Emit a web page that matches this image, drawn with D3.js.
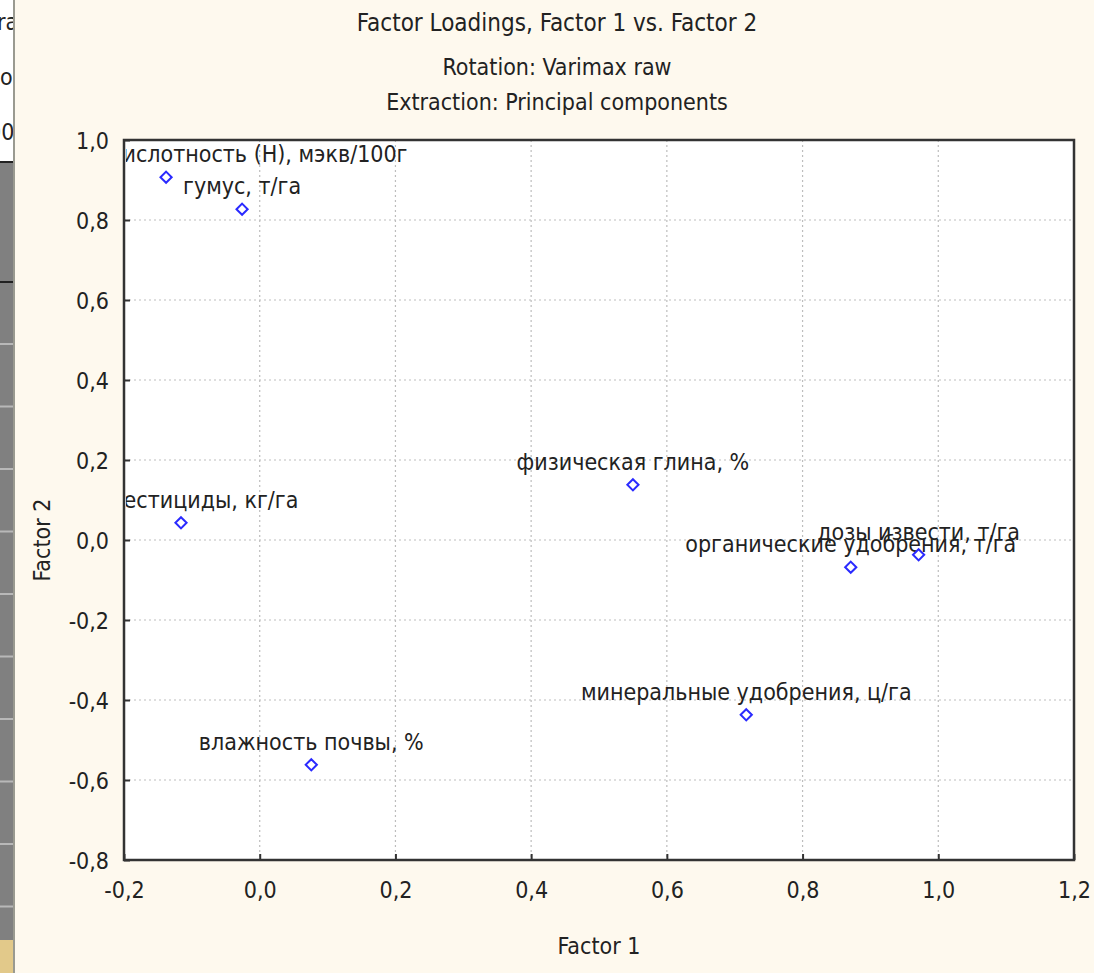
<!DOCTYPE html>
<html><head><meta charset="utf-8">
<script src="https://cdn.jsdelivr.net/npm/d3@7"></script>
<style>
html,body{margin:0;padding:0;background:#fef9ee;}
svg{display:block;}
text{font-family:"Liberation Sans Narrow","Arial Narrow","DejaVu Sans Condensed","Liberation Sans",sans-serif;fill:#222;}
</style></head>
<body>
<svg id="c" width="1094" height="973"></svg>
<script>
const titleLines = ["Factor Loadings, Factor 1 vs. Factor 2", "Rotation: Varimax raw", "Extraction: Principal components"];
const variables = ["кислотность (H), мэкв/100г", "гумус, т/га", "пестициды, кг/га", "влажность почвы, %", "физическая глина, %", "минеральные удобрения, ц/га", "органические удобрения, т/га", "дозы извести, т/га"];
const factor1 = [-0.138, -0.026, -0.116, 0.076, 0.550, 0.717, 0.871, 0.971];
const factor2 = [0.907, 0.827, 0.043, -0.562, 0.138, -0.437, -0.068, -0.037];
const xTicks = [-0.2, 0.0, 0.2, 0.4, 0.6, 0.8, 1.0, 1.2];
const yTicks = [-0.8, -0.6, -0.4, -0.2, 0.0, 0.2, 0.4, 0.6, 0.8, 1.0];
const xTitle = "Factor 1", yTitle = "Factor 2";

const svg = d3.select("#c");
const W = 1094, H = 973;
const m = {l:124, r:1074, t:140, b:860};
const fmt = d => d3.format(".1f")(d).replace(".", ",").replace("−","-");

svg.append("rect").attr("width",W).attr("height",H).attr("fill","#fef9ee");

// left strip artifact (edge of neighbouring window in the screenshot)
svg.append("clipPath").attr("id","sc").append("rect").attr("x",0).attr("y",0).attr("width",13).attr("height",H);
const strip = svg.append("g").attr("clip-path","url(#sc)");
strip.append("rect").attr("x",0).attr("y",0).attr("width",13).attr("height",162).attr("fill","#ffffff");
strip.append("rect").attr("x",0).attr("y",162).attr("width",13).attr("height",778).attr("fill","#808080");
strip.append("rect").attr("x",0).attr("y",940).attr("width",13).attr("height",33).attr("fill","#e2c98a");
strip.append("rect").attr("x",0).attr("y",161).attr("width",13).attr("height",2).attr("fill","#222");
strip.append("rect").attr("x",0).attr("y",281).attr("width",13).attr("height",2).attr("fill","#222");
d3.range(343, 930, 62.5).forEach(y => strip.append("rect").attr("x",0).attr("y",y).attr("width",13).attr("height",2).attr("fill","#b8b8b8"));
strip.append("text").attr("x",-3).attr("y",30).attr("font-size",23).text("ra");
strip.append("text").attr("x",0).attr("y",85).attr("font-size",23).text("o");
strip.append("text").attr("x",-12).attr("y",140).attr("font-size",23).text("00");
svg.append("rect").attr("x",13).attr("y",0).attr("width",2).attr("height",H).attr("fill","#9a9a90");

// titles
const tY = [31, 75, 110];
titleLines.forEach((t,i) => svg.append("text").attr("x",557).attr("y",tY[i]).attr("text-anchor","middle").attr("font-size",i===0?24:23).text(t));

const x = d3.scaleLinear().domain([-0.2,1.2]).range([m.l,m.r]);
const y = d3.scaleLinear().domain([-0.8,1.0]).range([m.b,m.t]);

svg.append("rect").attr("x",m.l).attr("y",m.t).attr("width",m.r-m.l).attr("height",m.b-m.t).attr("fill","#ffffff");

const grid = svg.append("g").attr("stroke","#bdbdbd").attr("stroke-width",1.2).attr("stroke-dasharray","2,3");
xTicks.slice(1,-1).forEach(v => grid.append("line").attr("x1",x(v)).attr("x2",x(v)).attr("y1",m.t).attr("y2",m.b));
yTicks.slice(1,-1).forEach(v => grid.append("line").attr("x1",m.l).attr("x2",m.r).attr("y1",y(v)).attr("y2",y(v)));

const xAxis = d3.axisBottom(x).tickValues(xTicks).tickFormat(fmt).tickSizeInner(-6).tickSizeOuter(0).tickPadding(20);
const yAxis = d3.axisLeft(y).tickValues(yTicks).tickFormat(fmt).tickSizeInner(-6).tickSizeOuter(0).tickPadding(15);
const gx = svg.append("g").attr("transform",`translate(0,${m.b})`).call(xAxis);
const gy = svg.append("g").attr("transform",`translate(${m.l},0)`).call(yAxis);
[gx,gy].forEach(g => {
  g.select(".domain").remove();
  g.selectAll(".tick line").attr("stroke","#333").attr("stroke-width",2);
  g.selectAll(".tick text").attr("font-size",23).attr("fill","#222").style("font-family",null);
});
gx.selectAll(".tick text").attr("dy","0.71em").attr("y",22);
gy.selectAll(".tick text").attr("dy","0.35em");

svg.append("rect").attr("x",m.l).attr("y",m.t).attr("width",m.r-m.l).attr("height",m.b-m.t)
  .attr("fill","none").attr("stroke","#333").attr("stroke-width",2.5);

svg.append("text").attr("x",(m.l+m.r)/2).attr("y",954).attr("text-anchor","middle").attr("font-size",23).text(xTitle);
svg.append("text").attr("transform",`translate(50,${y(0)}) rotate(-90)`).attr("text-anchor","middle").attr("font-size",23).text(yTitle);

svg.append("clipPath").attr("id","pc").append("rect").attr("x",m.l+2).attr("y",m.t+1).attr("width",m.r-m.l-3).attr("height",m.b-m.t-2);
const pg = svg.append("g").attr("clip-path","url(#pc)");

const data = variables.map((v,i) => ({name:v, f1:factor1[i], f2:factor2[i]}));
pg.selectAll("text.lbl").data(data).join("text").attr("class","lbl")
  .attr("font-size",23).attr("y",d => y(d.f2)-15).text(d => d.name)
  .each(function(d){
    const w = this.getComputedTextLength();
    let sx = x(d.f1) - w/2;
    if (sx < m.l) sx = m.l - 14;
    d3.select(this).attr("x", sx);
  });
pg.selectAll("path.pt").data(data).join("path").attr("class","pt")
  .attr("d", d3.symbol(d3.symbolDiamond2 || d3.symbolDiamond, 80))
  .attr("transform", d => `translate(${x(d.f1)},${y(d.f2)})`)
  .attr("fill","#fff").attr("stroke","#2a2aff").attr("stroke-width",2);
</script>
</body></html>
